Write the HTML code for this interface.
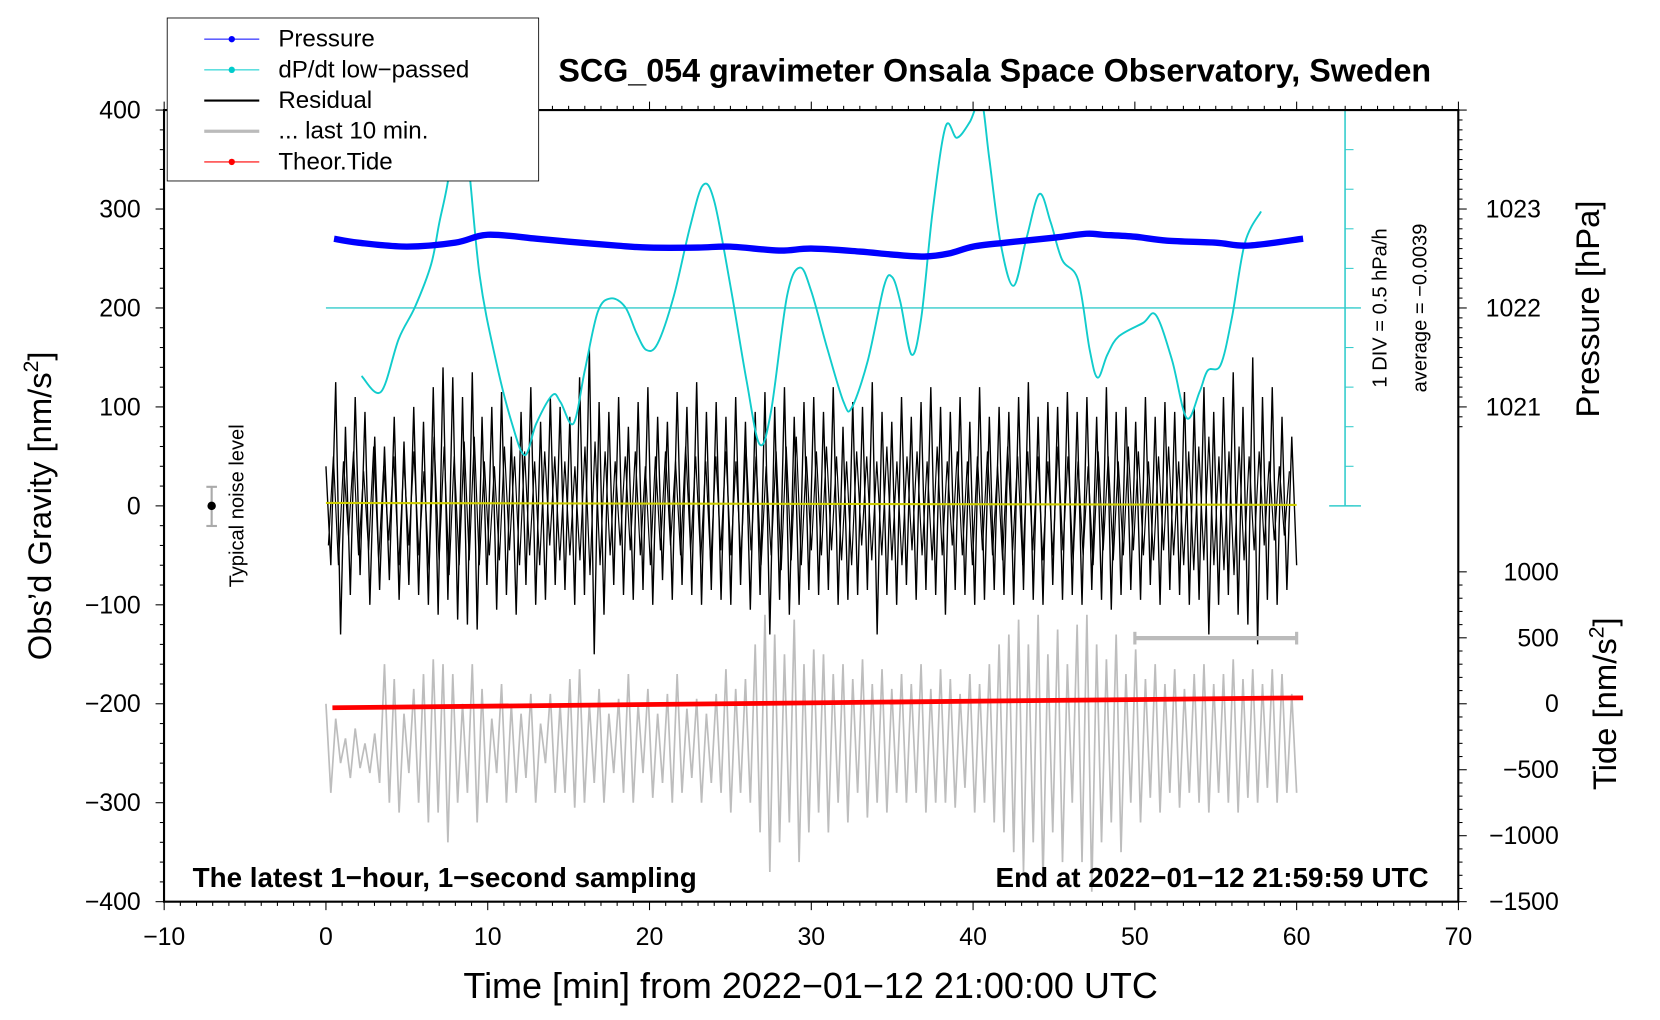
<!DOCTYPE html>
<html><head><meta charset="utf-8"><style>
html,body{margin:0;padding:0;background:#fff;}
svg{display:block;font-family:"Liberation Sans",sans-serif;}
</style></head><body>
<svg id="chart" width="1660" height="1020" viewBox="0 0 1568.6 963.8" preserveAspectRatio="none" xmlns="http://www.w3.org/2000/svg">
<defs><clipPath id="plotclip"><rect x="155" y="104" width="1223" height="748"/></clipPath></defs>
<rect x="0" y="0" width="1568.6" height="963.8" fill="#fff"/>
<g id="marks" clip-path="url(#plotclip)"></g>
<g id="axes"></g>
<text x="940" y="77" font-size="30.5" font-weight="bold" text-anchor="middle">SCG_054 gravimeter Onsala Space Observatory, Sweden</text>
<text x="766" y="943" font-size="34" text-anchor="middle">Time [min] from 2022−01−12 21:00:00 UTC</text>
<text transform="translate(48,478) rotate(-90)" font-size="31" text-anchor="middle">Obs’d Gravity [nm/s<tspan font-size="20" dy="-12">2</tspan><tspan dy="12">]</tspan></text>
<text transform="translate(1511,292) rotate(-90)" font-size="31" text-anchor="middle">Pressure [hPa]</text>
<text transform="translate(1527,665) rotate(-90)" font-size="31" text-anchor="middle">Tide [nm/s<tspan font-size="20" dy="-12">2</tspan><tspan dy="12">]</tspan></text>
<text transform="translate(1310,291) rotate(-90)" font-size="19" text-anchor="middle">1 DIV = 0.5 hPa/h</text>
<text transform="translate(1348,291) rotate(-90)" font-size="19" text-anchor="middle">average = −0.0039</text>
<text transform="translate(230,478) rotate(-90)" font-size="19" text-anchor="middle">Typical noise level</text>
<text x="182" y="838" font-size="26.3" font-weight="bold">The latest 1−hour, 1−second sampling</text>
<text x="1350" y="838" font-size="26.3" font-weight="bold" text-anchor="end">End at 2022−01−12 21:59:59 UTC</text>
<g>
<rect x="158" y="17" width="351" height="154" fill="#fff" stroke="#000" stroke-width="0.8"/>
<line x1="193" y1="37" x2="245" y2="37" stroke="#00f" stroke-width="1"/><circle cx="219" cy="37" r="3" fill="#00f"/>
<text x="263" y="44" font-size="22.8">Pressure</text>
<line x1="193" y1="66" x2="245" y2="66" stroke="#0cc" stroke-width="1"/><circle cx="219" cy="66" r="3" fill="#0cc"/>
<text x="263" y="73" font-size="22.8">dP/dt low−passed</text>
<line x1="193" y1="95" x2="245" y2="95" stroke="#000" stroke-width="2"/>
<text x="263" y="102" font-size="22.8">Residual</text>
<line x1="193" y1="124" x2="245" y2="124" stroke="#bbb" stroke-width="3"/>
<text x="263" y="131" font-size="22.8">... last 10 min.</text>
<line x1="193" y1="153" x2="245" y2="153" stroke="#f00" stroke-width="1"/><circle cx="219" cy="153" r="3" fill="#f00"/>
<text x="263" y="160" font-size="22.8">Theor.Tide</text>
</g>
</svg>
<script>
var residual=[40,-60,125,-130,80,-90,110,-70,95,-100,70,-85,60,-75,90,-95,65,-80,100,-90,85,-100,120,-110,140,-95,130,-115,110,-120,135,-125,90,-80,100,-105,115,-90,70,-110,95,-80,120,-100,85,-95,110,-80,100,-85,90,-100,130,-90,160,-150,105,-110,95,-80,110,-90,80,-95,105,-85,120,-100,90,-75,85,-95,115,-80,100,-90,125,-100,95,-85,105,-95,90,-100,110,-80,85,-105,95,-90,115,-130,100,-95,120,-110,90,-100,105,-85,110,-90,95,-85,120,-100,80,-95,105,-90,100,-85,125,-130,95,-90,85,-100,110,-80,90,-95,105,-85,120,-90,100,-110,95,-85,110,-90,85,-100,120,-95,90,-85,100,-90,95,-100,110,-85,125,-95,90,-100,105,-80,100,-95,115,-90,95,-100,110,-85,90,-95,120,-105,95,-90,100,-85,85,-95,110,-80,90,-100,105,-85,95,-90,115,-100,100,-95,120,-130,95,-100,110,-90,135,-110,100,-120,150,-140,110,-95,120,-100,90,-85,70,-60];
var residualFine=[-40,50,-60,45,-30,55,-50,35,-45,60,-55,40,-35,50,-60,45,-40,55,-50,35,-65,70,-55,60,-70,50,-60,65,-55,70,-60,45,-50,40,-55,60,-45,50,-60,55,-50,45,-60,55,-40,50,-55,45,-50,40,-55,60,-70,65,-60,55,-50,45,-40,50,-45,55,-50,40,-60,50,-45,55,-40,45,-50,60,-45,50,-55,45,-60,50,-45,55,-50,45,-55,60,-45,50,-60,40,-50,55,-65,60,-55,70,-60,50,-45,55,-50,60,-45,50,-55,45,-60,55,-40,50,-55,45,-50,60,-55,45,-60,50,-45,55,-50,45,-55,60,-50,45,-40,55,-50,45,-60,50,-45,55,-50,40,-55,60,-45,50,-60,55,-45,50,-55,45,-50,60,-45,50,-55,45,-50,40,-60,55,-45,50,-55,45,-50,60,-45,55,-50,45,-55,50,-45,60,-50,45,-60,55,-65,60,-55,70,-60,50,-65,55,-70,60,-55,50,-45,55,-40,45,-35,40,-30,35];
var lastTen=[-200,-290,-215,-260,-235,-275,-225,-265,-240,-270,-230,-280,-160,-300,-175,-310,-210,-270,-185,-300,-170,-320,-155,-310,-160,-340,-170,-300,-200,-290,-160,-320,-185,-300,-215,-270,-180,-300,-200,-290,-210,-275,-190,-300,-220,-260,-190,-290,-200,-290,-175,-305,-165,-300,-200,-280,-185,-300,-210,-270,-195,-290,-170,-300,-200,-270,-185,-295,-210,-280,-190,-300,-170,-290,-205,-275,-195,-300,-210,-280,-190,-290,-165,-310,-185,-290,-175,-300,-140,-330,-110,-370,-130,-340,-150,-320,-115,-360,-160,-330,-145,-310,-150,-330,-170,-300,-160,-320,-175,-290,-155,-315,-180,-300,-165,-310,-185,-290,-170,-300,-180,-290,-160,-310,-185,-300,-165,-300,-175,-305,-190,-285,-170,-310,-180,-300,-160,-320,-140,-330,-130,-350,-115,-370,-140,-340,-110,-380,-150,-330,-125,-360,-160,-300,-120,-360,-110,-390,-140,-340,-155,-320,-130,-350,-170,-300,-145,-320,-175,-295,-160,-310,-180,-290,-165,-305,-185,-290,-170,-300,-160,-310,-180,-290,-170,-300,-155,-310,-175,-295,-165,-300,-180,-285,-165,-300,-170,-290,-190,-290];
var dpdtTimes=[2.2,3.4,4.5,5.5,6.5,7.0,7.6,8.0,8.7,9.5,10.5,11.5,12.3,13,14,14.5,15.3,16,16.8,17.6,18.5,19.2,19.8,20.5,21.5,22.5,23.3,24,25,26,26.8,27.5,28.5,29.3,30,31,32,32.5,33.5,34.5,35,35.5,36.2,36.8,37.5,38.3,39,39.8,40.5,41,41.7,42.5,43.3,44.1,44.8,45.5,46.5,47.2,47.7,48.3,49,50.5,51.3,52.3,53.2,54,54.5,55.3,56,56.8,57.8];
var dpdtValues=[-0.86,-1.06,-0.39,0.01,0.55,1.07,1.68,2.55,2.02,0.41,-0.66,-1.46,-1.86,-1.46,-1.10,-1.19,-1.46,-0.79,-0.05,0.12,0.01,-0.32,-0.53,-0.45,0.15,1.02,1.55,1.35,0.28,-0.92,-1.72,-1.32,0.15,0.51,0.21,-0.52,-1.19,-1.26,-0.66,0.28,0.39,0.08,-0.59,-0.12,1.22,2.29,2.15,2.35,2.62,1.89,0.82,0.28,0.88,1.44,1.08,0.61,0.35,-0.52,-0.88,-0.59,-0.36,-0.19,-0.09,-0.66,-1.39,-1.06,-0.79,-0.72,-0.12,0.82,1.22];
var pressTimes=[0.5,2,5,8,10,13,15,18,20,23,25,28,30,33,35,37,38.5,40,42,45,47,48,50,52,55,57,60.4];
var pressValues=[1022.70,1022.66,1022.62,1022.66,1022.74,1022.70,1022.67,1022.63,1022.61,1022.61,1022.62,1022.58,1022.60,1022.57,1022.54,1022.52,1022.55,1022.62,1022.66,1022.71,1022.75,1022.74,1022.72,1022.68,1022.66,1022.63,1022.70];
var tideTimes=[0.4,60.4];
var tideValues=[-30,45];
var xTicks=[-10,0,10,20,30,40,50,60,70];
var yTicks=[-400,-300,-200,-100,0,100,200,300,400];
var pressTicks=[1021,1022,1023];
var tideTicks=[-1500,-1000,-500,0,500,1000];

var NS='http://www.w3.org/2000/svg';
function X(t){return 308+t*15.2875;}
function Y(g){return 478-g*0.935;}
function P(p){return Y(200+(p-1022)*100);}
function T(v){return Y(-200+v*0.13333);}
function D(v){return Y(200+v*80);}
function mk(tag,attrs,parent){var e=document.createElementNS(NS,tag);for(var k in attrs){e.setAttribute(k,attrs[k]);}parent.appendChild(e);return e;}
function smooth(p){var d='M'+p[0][0]+','+p[0][1];for(var j=0;j<p.length-1;j++){var a=p[j-1]||p[j],b=p[j],c=p[j+1],e=p[j+2]||c;d+=' C'+(b[0]+(c[0]-a[0])/6)+','+(b[1]+(c[1]-a[1])/6)+' '+(c[0]-(e[0]-b[0])/6)+','+(c[1]-(e[1]-b[1])/6)+' '+c[0]+','+c[1];}return d;}
var marks=document.getElementById('marks');
var axes=document.getElementById('axes');
var i,pts;

pts=[];for(i=0;i<lastTen.length;i++){pts.push(X(i*60/(lastTen.length-1))+','+Y(lastTen[i]));}
var gl=mk('polyline',{points:pts.join(' '),fill:'none',stroke:'#bdbdbd','stroke-width':1.6},marks);



var n=residual.length,step=60/(n-1);
pts=[];for(i=0;i<n;i++){pts.push(X(i*step)+','+Y(residual[i]));}
var rl=mk('polyline',{points:pts.join(' '),fill:'none',stroke:'#000','stroke-width':1.3},marks);


var nf=residualFine.length,stepF=59.4/(nf-1);
pts=[];for(i=0;i<nf;i++){pts.push(X(0.15+i*stepF)+','+Y(residualFine[i]));}
var rf=mk('polyline',{points:pts.join(' '),fill:'none',stroke:'#000','stroke-width':1.1},marks);


var yl=mk('line',{x1:X(0),y1:Y(3),x2:X(60),y2:Y(1),stroke:'#cc0','stroke-width':2},marks);



var bl=mk('line',{x1:X(0),y1:D(0),x2:1286,y2:D(0),stroke:'#3cc','stroke-width':1.3},marks);


var cp=[];for(i=0;i<dpdtTimes.length;i++){cp.push([X(dpdtTimes[i]),D(dpdtValues[i])]);}
var cl=mk('path',{d:smooth(cp),fill:'none',stroke:'#1cc','stroke-width':1.8},marks);



var pp=[];for(i=0;i<pressTimes.length;i++){pp.push([X(pressTimes[i]),P(pressValues[i])]);}
var pl=mk('path',{d:smooth(pp),fill:'none',stroke:'#00f','stroke-width':6},marks);



var tl=mk('line',{x1:X(tideTimes[0]),y1:T(tideValues[0]),x2:X(tideTimes[1]),y2:T(tideValues[1]),stroke:'#f00','stroke-width':4.5},marks);



var sb=mk('g',{},axes);


mk('line',{x1:X(50),y1:603,x2:X(60),y2:603,stroke:'#bbb','stroke-width':4},sb);
mk('line',{x1:X(50),y1:597,x2:X(50),y2:609,stroke:'#bbb','stroke-width':3},sb);
mk('line',{x1:X(60),y1:597,x2:X(60),y2:609,stroke:'#bbb','stroke-width':3},sb);
var nb=mk('g',{},axes);


mk('line',{x1:200,y1:460,x2:200,y2:497,stroke:'#aaa','stroke-width':2},nb);
mk('line',{x1:195,y1:460,x2:205,y2:460,stroke:'#aaa','stroke-width':2},nb);
mk('line',{x1:195,y1:497,x2:205,y2:497,stroke:'#aaa','stroke-width':2},nb);
mk('circle',{cx:200,cy:478,r:4,fill:'#000'},nb);

var da=mk('g',{},axes);


mk('line',{x1:1271,y1:104,x2:1271,y2:478,stroke:'#3cc','stroke-width':1.5},da);
for(i=0;i<=10;i++){var yy=104+i*37.4;mk('line',{x1:1271,y1:yy,x2:1279,y2:yy,stroke:'#3cc','stroke-width':1},da);}
mk('line',{x1:1256,y1:104,x2:1286,y2:104,stroke:'#3cc','stroke-width':1.5},da);
mk('line',{x1:1256,y1:478,x2:1286,y2:478,stroke:'#3cc','stroke-width':1.5},da);

var fr=mk('rect',{x:155,y:104,width:1223,height:748,fill:'none',stroke:'#000','stroke-width':2},axes);



for(var m=-10;m<=70;m++){var len=(m%10===0)?8:4;mk('line',{x1:X(m),y1:852,x2:X(m),y2:852+len,stroke:'#000','stroke-width':1},axes);mk('line',{x1:X(m),y1:104,x2:X(m),y2:104-len,stroke:'#000','stroke-width':1},axes);}
xTicks.forEach(function(v){var t=mk('text',{x:X(v),y:893,'font-size':23.5,'text-anchor':'middle'},axes);t.textContent=String(v).replace('-','\u2212');

});
for(var g=-400;g<=400;g+=20){mk('line',{x1:155,y1:Y(g),x2:155-((g%100===0)?8:4),y2:Y(g),stroke:'#000','stroke-width':1},axes);}
yTicks.forEach(function(v){var t=mk('text',{x:133,y:Y(v)+8,'font-size':23.5,'text-anchor':'end'},axes);t.textContent=String(v).replace('-','\u2212');

});
for(var pi=0;pi<=32;pi++){var p=1020.8+pi*0.1;var yp=P(p);if(yp<104||yp>478){continue;}var maj=Math.abs(p-Math.round(p))<0.01;mk('line',{x1:1378,y1:yp,x2:1378+(maj?8:4),y2:yp,stroke:'#000','stroke-width':1},axes);}
pressTicks.forEach(function(v){var t=mk('text',{x:1430,y:P(v)+8,'font-size':23.5,'text-anchor':'middle'},axes);t.textContent=v;

});
for(var tv=-1500;tv<=1000;tv+=100){mk('line',{x1:1378,y1:T(tv),x2:1378+((tv%500===0)?8:4),y2:T(tv),stroke:'#000','stroke-width':1},axes);}
tideTicks.forEach(function(v){var t=mk('text',{x:1473,y:T(v)+8,'font-size':23.5,'text-anchor':'end'},axes);t.textContent=String(v).replace('-','\u2212');

});
</script>
</body></html>
